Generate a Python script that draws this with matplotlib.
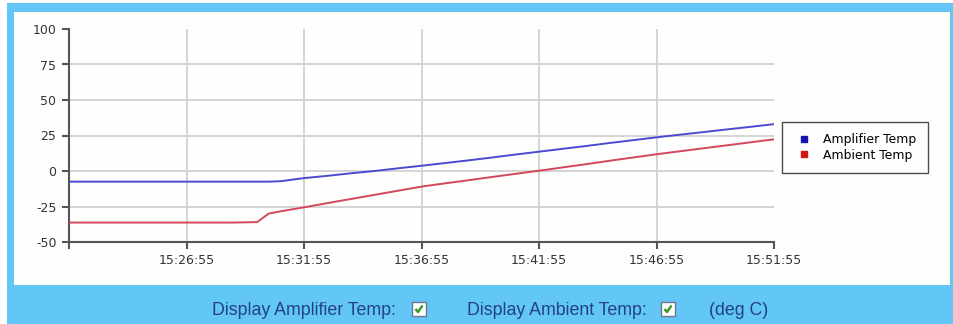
import matplotlib
matplotlib.use("Agg")
import matplotlib.pyplot as plt
from matplotlib.patches import Rectangle
from matplotlib.lines import Line2D
from datetime import datetime, timedelta

# ---- data ----
start_time = datetime(2024, 1, 1, 15, 21, 55)
minutes = [0, 1, 2, 3, 4, 5, 6, 7, 8, 8.5, 9, 10, 11, 12, 13, 14, 15, 16, 17, 18,
           19, 20, 21, 22, 23, 24, 25, 26, 27, 28, 29, 30]
amplifier_temp = [-7.5, -7.5, -7.5, -7.5, -7.5, -7.5, -7.5, -7.5, -7.5, -7.5, -7.2,
                  -5.0, -3.4, -1.6, 0.0, 1.9, 3.7, 5.6, 7.5, 9.5, 11.6, 13.6, 15.6,
                  17.6, 19.7, 21.7, 23.7, 25.6, 27.4, 29.3, 31.1, 33.0]
ambient_temp = [-36.3, -36.3, -36.3, -36.3, -36.3, -36.3, -36.3, -36.3, -36.0, -30.0,
                -28.4, -25.6, -22.6, -19.7, -16.8, -13.9, -11.0, -8.7, -6.5, -4.2,
                -2.0, 0.2, 2.5, 4.8, 7.2, 9.5, 11.8, 13.9, 16.0, 18.1, 20.2, 22.3]
series_names = ["Amplifier Temp", "Ambient Temp"]
y_ticks = [-50, -25, 0, 25, 50, 75, 100]
x_tick_labels = ["", "15:26:55", "15:31:55", "15:36:55", "15:41:55", "15:46:55", "15:51:55"]
footer_labels = ["Display Amplifier Temp:", "Display Ambient Temp:", "(deg C)"]

times = [start_time + timedelta(minutes=m) for m in minutes]
x_ticks = [start_time + timedelta(minutes=5 * i) for i in range(len(x_tick_labels))]

W, H = 954, 324
fig = plt.figure(figsize=(W / 100, H / 100), dpi=100)
fig.patch.set_facecolor("white")


def px_rect(x0, y0, x1, y1, **kw):
    """Rectangle given in pixel coordinates measured from the top-left."""
    r = Rectangle((x0 / W, 1 - y1 / H), (x1 - x0) / W, (y1 - y0) / H,
                  transform=fig.transFigure, **kw)
    fig.add_artist(r)
    return r


# blue frame and white chart panel
px_rect(7, 3, 954, 324, facecolor="#62C6F6", edgecolor="none", zorder=-3)
px_rect(14, 12, 950, 285, facecolor="#FEFEFC", edgecolor="none", zorder=-2)

ax = fig.add_axes([69 / W, 1 - 242 / H, (774 - 69) / W, (242 - 29) / H])
ax.set_facecolor("none")

blue = "#4B4BD2"
red = "#D2475A"
ax.plot(times, amplifier_temp, color=blue, lw=1.4, zorder=3)
ax.plot(times, ambient_temp, color=red, lw=1.4, zorder=3)

ax.set_xlim(x_ticks[0], x_ticks[-1])
ax.set_ylim(-50, 100)

ax.set_yticks(y_ticks)
ax.set_yticklabels([str(v) for v in y_ticks])
ax.set_xticks(x_ticks)
ax.set_xticklabels(x_tick_labels)

# grid only on the inner tick positions
for v in y_ticks[1:-1]:
    ax.axhline(v, color="#D4D4D4", lw=1.4, zorder=1)
for t in x_ticks[1:-1]:
    ax.axvline(t, color="#D4D4D4", lw=1.4, zorder=1)

for side in ("top", "right"):
    ax.spines[side].set_visible(False)
for side in ("left", "bottom"):
    ax.spines[side].set_color("#555555")
    ax.spines[side].set_linewidth(1.5)

ax.tick_params(axis="both", colors="#555555", length=5, width=1.5,
               labelcolor="#333333", labelsize=9)
ax.tick_params(axis="y", pad=4)
ax.tick_params(axis="x", pad=4)

# legend box
handles = [
    Line2D([], [], ls="none", marker="s", ms=4, color="#1414B4"),
    Line2D([], [], ls="none", marker="s", ms=4, color="#D21414"),
]
leg = fig.legend(handles, series_names, loc="upper left",
                 bbox_to_anchor=(782 / W, 1 - 122 / H), frameon=True,
                 fancybox=False, fontsize=8.9, handlelength=1.8, handletextpad=0.65,
                 borderpad=0.9, labelspacing=0.2, borderaxespad=0)
leg.get_frame().set_edgecolor("#222222")
leg.get_frame().set_linewidth(1.0)

# footer controls
text_color = "#22408A"
for x_px, label in zip((212, 467, 709), footer_labels):
    fig.text(x_px / W, 1 - 310.5 / H, label, color=text_color, fontsize=12.8,
             family="Liberation Sans", va="center", ha="left")

for bx in (412, 661):
    px_rect(bx, 302, bx + 14, 316, facecolor="white", edgecolor="#6A7A8A", lw=1.0, zorder=2)
    cx = [bx + 3.5, bx + 6, bx + 10.5]
    cy = [309, 312, 305.5]
    fig.add_artist(Line2D([c / W for c in cx], [1 - c / H for c in cy],
                          transform=fig.transFigure, color="#3C9A2C", lw=1.8,
                          solid_capstyle="butt", zorder=3))

fig.savefig("out.png", dpi=100)
